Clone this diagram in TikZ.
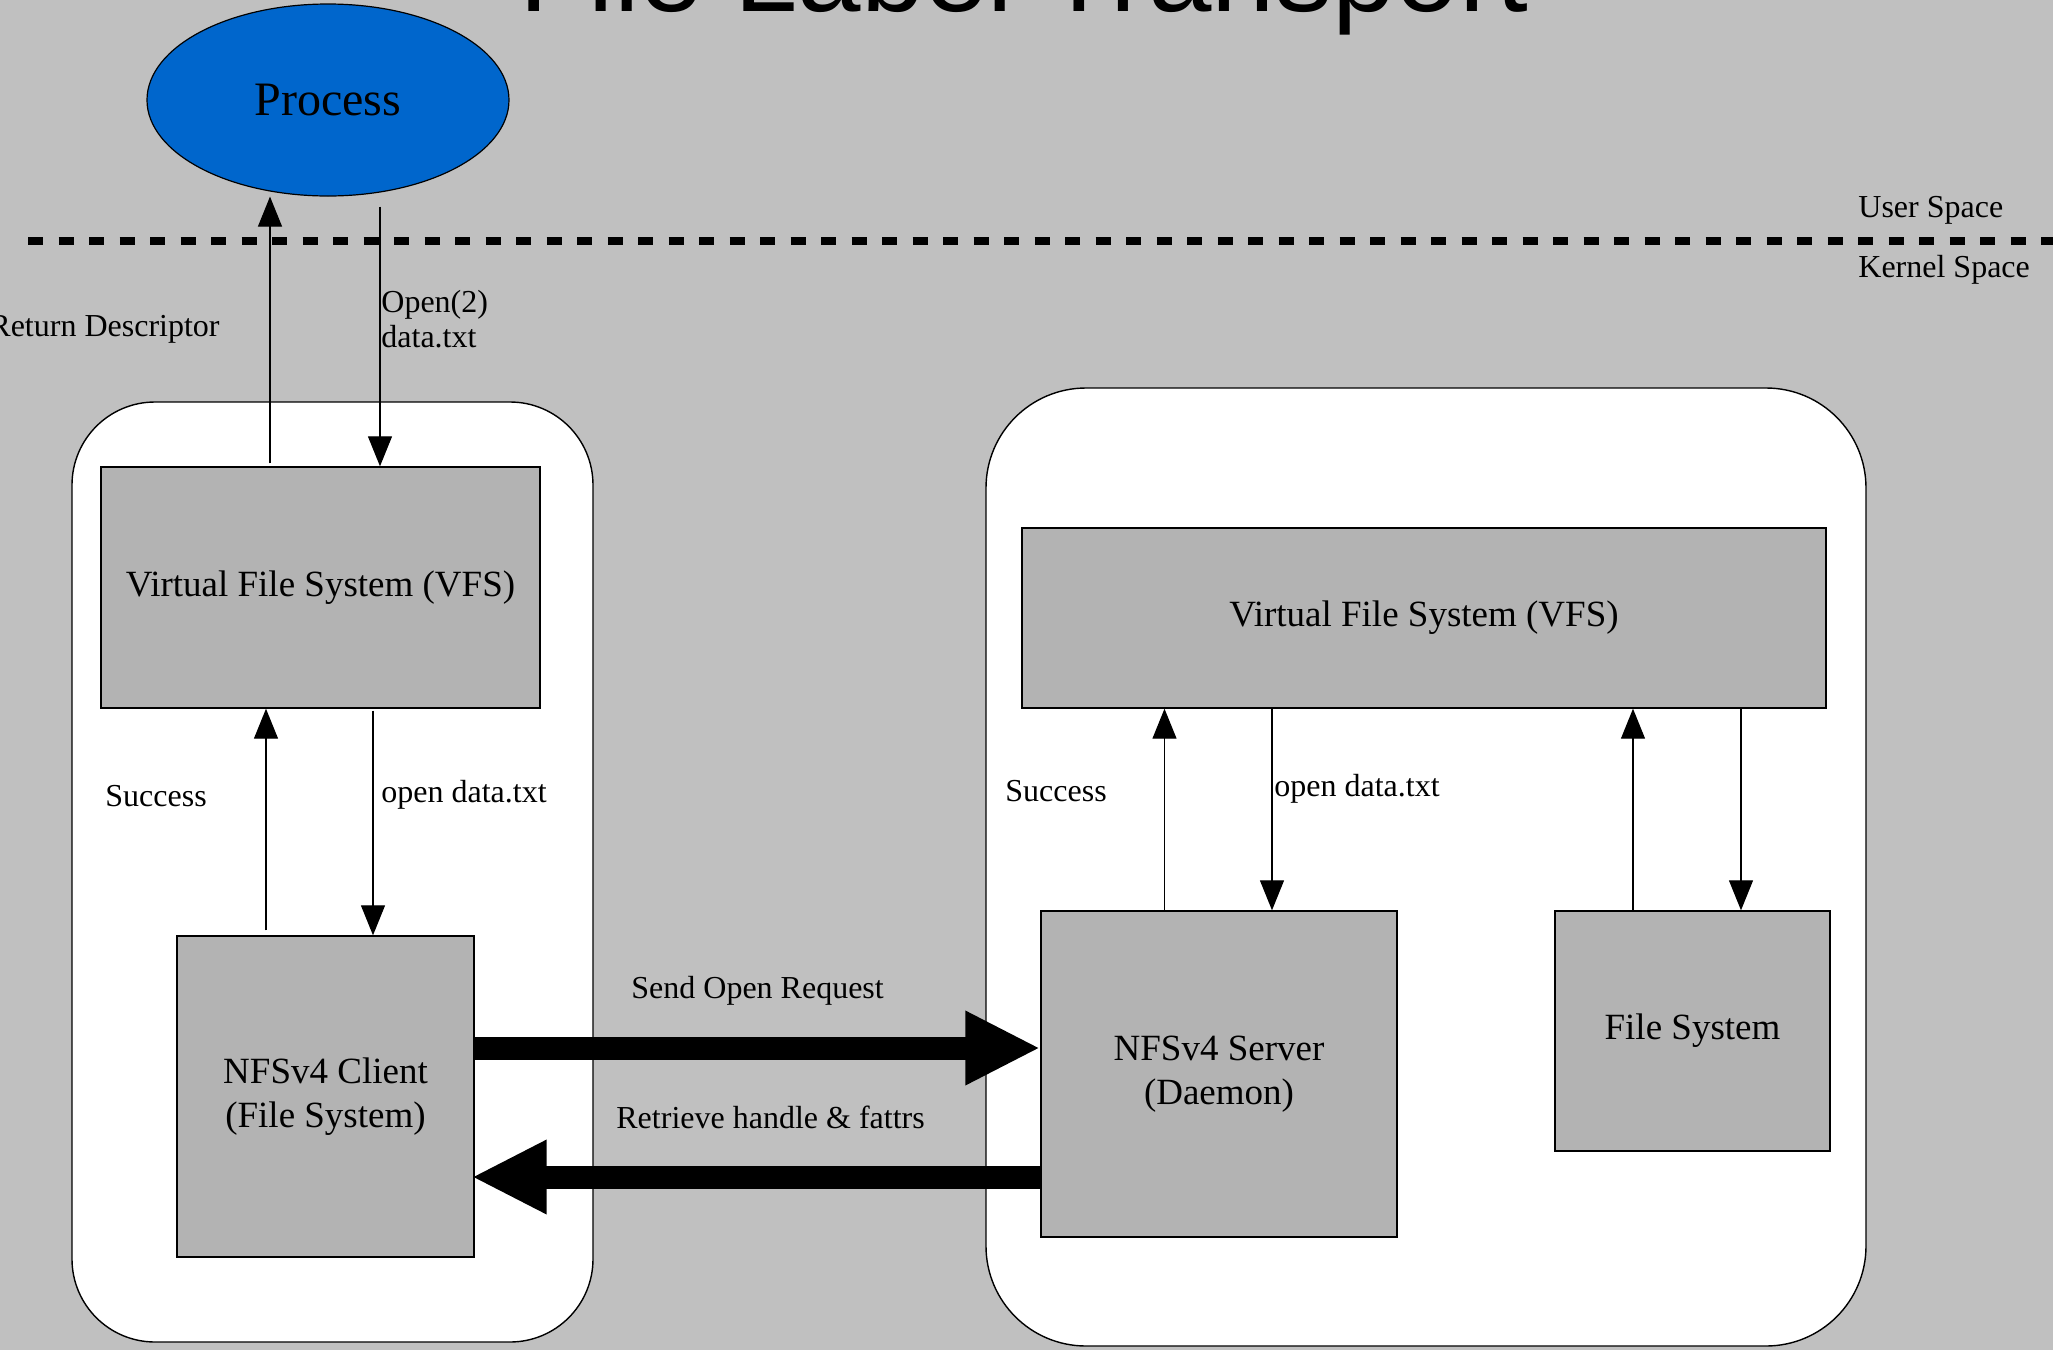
\documentclass[tikz,border=0pt]{standalone}
\usepackage{fontspec}
\setmainfont{Liberation Serif}
\newfontfamily\titlefont{Liberation Sans}
\usetikzlibrary{arrows.meta,shapes.geometric}
\definecolor{paneGrey}{RGB}{192,192,192}
\definecolor{boxGrey}{RGB}{179,179,179}
\definecolor{procBlue}{RGB}{0,102,204}
\tikzset{
	fsbox/.style={
		draw, line width=0.7pt, fill=boxGrey, inner sep=0pt, align=center,
		font=\fontsize{18.5pt}{21.8pt}\selectfont},
	hostbox/.style={
		draw, line width=0.7pt, fill=white, inner sep=0pt},
	callarrow/.style={
		line width=0.6pt, -{Triangle[length=15pt,width=12pt]}},
	rpcarrow/.style={
		line width=11.5pt, -{Triangle[length=37.5pt,width=34.5pt]}},
	lbl/.style={
		inner sep=0pt, anchor=base west, font=\fontsize{16pt}{17.5pt}\selectfont}
}

\begin{document}
\begin{tikzpicture}[x=0.5pt,y=-0.5pt]
\useasboundingbox[fill=paneGrey] (0,0) rectangle (2053,1350);

% title, cut by the top edge
\node[anchor=base, inner sep=0pt, font=\titlefont\fontsize{57pt}{61pt}\selectfont] (title) at (1024,11) {File Label Transport};

% user process
\node[ellipse, draw, line width=0.6pt, fill=procBlue, inner sep=0pt, minimum width=181pt, minimum height=96pt, font=\fontsize{24pt}{28pt}\selectfont] (proc) at (328,100) {Process};

% user / kernel boundary
\draw[line width=3.75pt, dash pattern=on 7.5pt off 7.75pt] (28,241) -- (2053,241);
\node[lbl] (user) at (1858,217) {User Space};
\node[lbl] (kernel) at (1858,277) {Kernel Space};

% client and server machines
\node[hostbox, minimum width=260.5pt, minimum height=470pt, rounded corners=41.5pt] (client) at (332.5,872) {};
\node[hostbox, minimum width=440pt, minimum height=479pt, rounded corners=50pt] (server) at (1426,867) {};

\node[fsbox, minimum width=219.5pt, minimum height=120.5pt] (vfsL) at (320.5,587.5) {Virtual File System (VFS)};
\node[fsbox, minimum width=148.5pt, minimum height=160.5pt] (nfsc) at (325.5,1096.5) {NFSv4 Client\\(File System)};
\node[fsbox, minimum width=402pt, minimum height=90pt] (vfsR) at (1424,618) {Virtual File System (VFS)};
\node[fsbox, minimum width=178pt, minimum height=163pt] (nfsd) at (1219,1074) {NFSv4 Server\\(Daemon)};
\node[fsbox, minimum width=137.5pt, minimum height=120pt] (fs) at (1692.5,1031) {File System};

% system calls
\draw[callarrow] ([xshift=-25.25pt,yshift=1.5pt]vfsL.north) coordinate (ret) -- (ret |- proc.south);
\draw[callarrow] ([xshift=26pt,yshift=-5pt]proc.south) coordinate (open) -- (open |- vfsL.north);
\draw[callarrow] ([xshift=-29.75pt,yshift=2.5pt]nfsc.north) coordinate (okL) -- (okL |- vfsL.south);
\draw[callarrow] ([xshift=26.25pt,yshift=-1pt]vfsL.south) coordinate (opL) -- (opL |- nfsc.north);
\draw[callarrow] ([xshift=-27.25pt]nfsd.north) coordinate (okR) -- (okR |- vfsR.south);
\draw[callarrow] ([xshift=-76pt]vfsR.south) coordinate (opR) -- (opR |- nfsd.north);
\draw[callarrow] ([xshift=-29.75pt]fs.north) coordinate (okF) -- (okF |- vfsR.south);
\draw[callarrow] ([xshift=158.5pt]vfsR.south) coordinate (opF) -- (opF |- fs.north);

% over the wire
\draw[rpcarrow] ([yshift=24.25pt]nfsc.east) coordinate (req) -- (req -| nfsd.west);
\draw[rpcarrow] ([yshift=-51.5pt]nfsd.west) coordinate (rep) -- ([xshift=-1.5pt]rep -| nfsc.east);

\node[lbl, anchor=base east] (retlbl) at (220,336) {Return Descriptor};
\node[lbl, align=left] (openlbl) at (381,347) {Open(2)\\data.txt};
\node[lbl] (okLlbl) at (105,806) {Success};
\node[lbl] (opLlbl) at (381,802) {open data.txt};
\node[lbl] (okRlbl) at (1005,801) {Success};
\node[lbl] (opRlbl) at (1274,796) {open data.txt};
\node[lbl] (reqlbl) at (631,998) {Send Open Request};
\node[lbl] (replbl) at (616,1128) {Retrieve handle \& fattrs};

\end{tikzpicture}
\end{document}
